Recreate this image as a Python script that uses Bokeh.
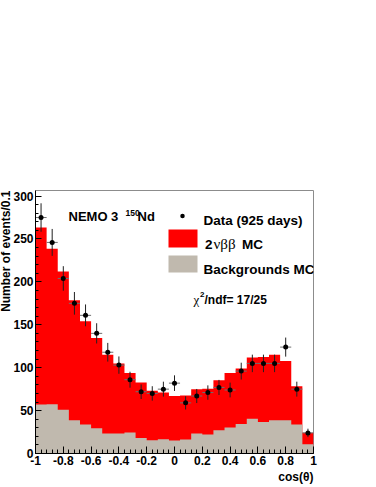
import numpy as np
from bokeh.plotting import figure
from bokeh.models import Range1d, FixedTicker, Label, Title
from bokeh.embed import file_html
from bokeh.resources import INLINE

# ---------------- data (25 bins of width 0.08 in cos(theta)) ----------------
bin_edges = np.round(np.linspace(-1.0, 1.0, 26), 2)

data_counts = [275, 246, 204, 175, 161, 140, 118, 103, 86, 72, 70, 75, 82,
               59, 67, 71, 77, 74, 96, 105, 105, 105, 124, 75, 24]
data_errors = [16.6, 15.7, 14.3, 13.2, 12.7, 11.8, 10.9, 10.1, 9.3, 8.5, 8.4, 8.7, 9.1,
               7.7, 8.2, 8.4, 8.8, 8.6, 9.8, 10.2, 10.2, 10.2, 11.1, 8.7, 4.9]
mc_bkg = [57.0, 57.4, 51.0, 38.8, 33.8, 29.5, 23.3, 23.3, 24.4, 18.2, 15.5, 16.7, 15.1,
          16.3, 23.3, 22.1, 27.1, 30.2, 34.4, 40.6, 36.7, 38.7, 38.7, 33.7, 10.8]
mc_2nbb = [206.5, 181.2, 161.0, 139.7, 120.2, 105.2, 91.7, 81.5, 69.5, 64.4, 57.5, 54.3, 51.9,
           51.2, 51.5, 53.4, 58.3, 63.7, 64.6, 71.2, 75.8, 76.5, 69.1, 44.7, 13.5]

x_ticks = [-1.0, -0.8, -0.6, -0.4, -0.2, 0.0, 0.2, 0.4, 0.6, 0.8, 1.0]
x_tick_labels = ["-1", "-0.8", "-0.6", "-0.4", "-0.2", "0", "0.2", "0.4", "0.6", "0.8", "1"]
y_ticks = [0, 50, 100, 150, 200, 250, 300]
y_tick_labels = ["0", "50", "100", "150", "200", "250", "300"]

FONT = "Liberation Sans"
GREEK = "Liberation Serif"
RED = "#ff0000"
GRAY = "#c0b9ae"

# ---------------- figure ----------------
FL, FT = 35, 190          # frame left / top in pixels
FW, FH = 278, 263
Y_TOP = 306.5
p = figure(frame_width=FW, frame_height=FH,
           min_border_left=FL, min_border_right=376 - FL - FW,
           min_border_top=FT, min_border_bottom=487 - FT - FH,
           x_range=Range1d(-1, 1), y_range=Range1d(0, Y_TOP),
           output_backend="svg", toolbar_location=None)
p.xgrid.visible = False
p.ygrid.visible = False
p.background_fill_color = "white"
p.border_fill_color = "white"
p.outline_line_color = "#8c8c8c"
p.outline_line_width = 1


def X(px):
    return -1 + (px - FL) * 2.0 / FW


def Y(py):
    return (FT + FH - py) * Y_TOP / FH


left = bin_edges[:-1]
right = bin_edges[1:]
centers = (left + right) / 2
bkg = np.array(mc_bkg)
total = bkg + np.array(mc_2nbb)
counts = np.array(data_counts, dtype=float)
errs = np.array(data_errors)

p.varea_step(x=bin_edges, y1=0, y2=np.append(total, total[-1]), step_mode="after",
             fill_color=RED)
p.varea_step(x=bin_edges, y1=0, y2=np.append(bkg, bkg[-1]), step_mode="after",
             fill_color=GRAY)

# data points with error bars
p.segment(x0=left, y0=counts, x1=right, y1=counts, line_color="#707070", line_width=1)
p.segment(x0=centers, y0=counts - errs, x1=centers, y1=counts + errs,
          line_color="#202020", line_width=1)
p.scatter(centers, counts, size=5, fill_color="black", line_color=None)

# ---------------- axes ----------------
xa = p.xaxis[0]
ya = p.yaxis[0]
xa.ticker = FixedTicker(ticks=x_ticks,
                        minor_ticks=list(np.round(np.arange(-1.0, 1.0001, 0.04), 2)))
xa.major_label_overrides = dict(zip(x_ticks, x_tick_labels))
ya.ticker = FixedTicker(ticks=y_ticks, minor_ticks=list(range(0, 301, 10)))
ya.major_label_overrides = dict(zip(y_ticks, y_tick_labels))
for ax in (xa, ya):
    ax.major_tick_out = 0
    ax.minor_tick_out = 0
    ax.axis_line_color = "black"
    ax.major_tick_line_color = "black"
    ax.minor_tick_line_color = "black"
    ax.major_label_text_font = FONT
    ax.major_label_text_font_style = "bold"
    ax.major_label_text_font_size = "12px"
    ax.major_label_text_color = "black"
xa.major_label_standoff = 2
ya.major_label_standoff = 2
xa.major_tick_in = 7
xa.minor_tick_in = 4
ya.major_tick_in = 6
ya.minor_tick_in = 3

# axis titles (ROOT style: aligned to the axis end)
p.add_layout(Title(text="Number of events/0.1", align="right", standoff=-6, offset=0,
                   vertical_align="middle",
                   text_font=FONT, text_font_size="12px", text_font_style="bold",
                   text_color="black"), "left")
p.add_layout(Title(text="cos(\u03b8)", align="right", standoff=0, offset=0,
                   text_font=FONT, text_font_size="12px", text_font_style="bold",
                   text_color="black"), "below")


def lab(x, y, text, size="13px", style="bold", font=FONT, **kw):
    p.add_layout(Label(x=x, y=y, text=text, text_font=font, text_font_size=size,
                       text_font_style=style, text_color="black",
                       text_baseline="alphabetic", **kw))


# title
lab(X(68), Y(215.7), "NEMO 3")
lab(X(125), Y(212.3), "150", size="8.5px")
lab(X(137), Y(215.7), "Nd")

# legend
p.scatter([X(182)], [Y(215.5)], size=4.5, fill_color="black", line_color=None)
lab(X(203), Y(219.5), "Data (925 days)", size="13.5px")
p.quad(left=[X(168)], right=[X(197)], bottom=[Y(247)], top=[Y(229)],
       fill_color=RED, line_color=None)
lab(X(204.5), Y(243.5), "2", size="13.5px")
lab(X(213), Y(243.5), "\u03bd\u03b2\u03b2", size="15px", style="normal", font=GREEK)
lab(X(241.5), Y(243.5), "MC", size="13.5px")
p.quad(left=[X(168)], right=[X(197)], bottom=[Y(272)], top=[Y(255)],
       fill_color=GRAY, line_color=None)
lab(X(203), Y(268.5), "Backgrounds MC", size="13.5px")

# chi2
lab(X(193), Y(299), "\u03c7", size="13px", style="normal", font=GREEK)
lab(X(199.5), Y(293.5), "2", size="8px")
lab(X(204), Y(299), "/ndf= 17/25", size="12px")

open("out.html", "w").write(file_html(p, INLINE))
